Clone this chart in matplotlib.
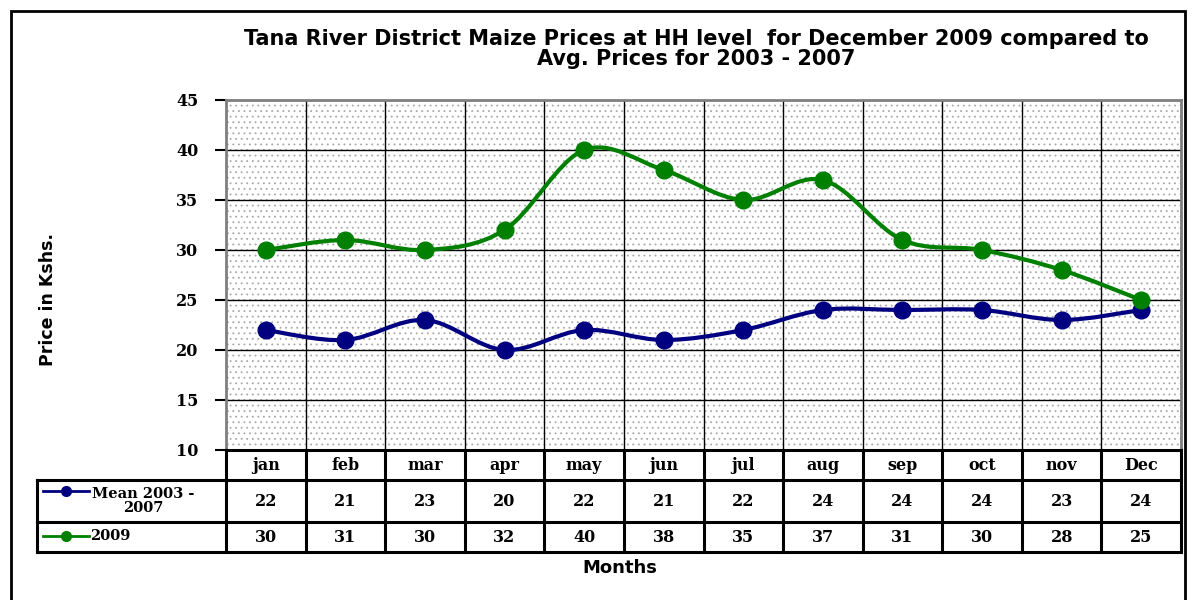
import numpy as np
import matplotlib.pyplot as plt
from matplotlib.path import Path
from matplotlib.patches import PathPatch, Rectangle

months = ['jan', 'feb', 'mar', 'apr', 'may', 'jun', 'jul', 'aug', 'sep', 'oct', 'nov', 'Dec']
mean_0307 = [22, 21, 23, 20, 22, 21, 22, 24, 24, 24, 23, 24]
prices_2009 = [30, 31, 30, 32, 40, 38, 35, 37, 31, 30, 28, 25]
series_names = ['Mean 2003 -\n2007', '2009']
series_colors = ['#000080', '#008000']
yticks = [10, 15, 20, 25, 30, 35, 40, 45]

W, H = 1192, 600
SERIF = ['DejaVu Serif']
SANS = ['DejaVu Sans']


def smooth_path(x, y):
    # excel-like smoothed line as cubic bezier through the points
    pts = np.column_stack([x, y]).astype(float)
    n = len(pts)
    verts, codes = [pts[0]], [Path.MOVETO]
    for i in range(n - 1):
        p0, p1 = pts[max(i - 1, 0)], pts[i]
        p2, p3 = pts[i + 1], pts[min(i + 2, n - 1)]
        verts += [p1 + (p2 - p0) / 6, p2 - (p3 - p1) / 6, p2]
        codes += [Path.CURVE4] * 3
    return Path(verts, codes)


plt.rcParams['hatch.linewidth'] = 0.6
fig = plt.figure(figsize=(W / 100, H / 100), dpi=100)

x0, x1 = 226, 1181
ax = fig.add_axes([x0 / W, 1 - 450 / H, (x1 - x0) / W, 350 / H])
x = np.arange(len(months))
ax.set_xlim(-0.5, len(months) - 0.5)
ax.set_ylim(10, 45)
ax.add_patch(Rectangle((0, 0), 1, 1, transform=ax.transAxes, facecolor='white',
                       edgecolor='#a8a8a8', lw=0, hatch='...', zorder=0))
for v in yticks[1:-1]:
    ax.axhline(v, color='black', lw=1, zorder=1)
for k in range(1, len(months)):
    ax.axvline(k - 0.5, color='black', lw=1, zorder=1)

for vals, c in zip([mean_0307, prices_2009], series_colors):
    ax.add_patch(PathPatch(smooth_path(x, vals), facecolor='none', edgecolor=c, lw=3, zorder=3))
    ax.plot(x, vals, 'o', color=c, ms=12, zorder=4)

ax.set_xticks([])
ax.set_yticks(yticks)
ax.set_yticklabels([str(v) for v in yticks], family=SERIF, fontweight='bold', fontsize=11.5)
ax.tick_params(axis='y', direction='out', length=8, width=1.5, pad=12)
for s in ['left', 'top', 'right']:
    ax.spines[s].set_color('#7f7f7f')
    ax.spines[s].set_linewidth(2)
ax.spines['bottom'].set_visible(False)

# data table below the plot
tax = fig.add_axes([x0 / W, 1 - 553 / H, (x1 - x0) / W, 103 / H])
tax.set_xlim(-0.5, len(months) - 0.5)
tax.set_ylim(103, 0)
tax.axis('off')
cw = (x1 - x0) / len(months)


def px2x(px):
    return (px - x0) / cw - 0.5


left = px2x(37)
kw = dict(color='black', lw=2.2, clip_on=False, solid_capstyle='projecting')
tax.plot([-0.5, 11.5], [0, 0], **kw)
for yy in [30, 72, 102]:
    tax.plot([left, 11.5], [yy, yy], **kw)
for k in range(len(months) + 1):
    tax.plot([k - 0.5, k - 0.5], [0, 102], **kw)
tax.plot([left, left], [30, 102], **kw)

cell = dict(ha='center', va='center', family=SERIF, fontweight='bold', fontsize=11.5)
for i, m in enumerate(months):
    tax.text(i, 15, m, **cell)
    tax.text(i, 52, str(mean_0307[i]), **cell)
    tax.text(i, 88, str(prices_2009[i]), **cell)

# legend keys inside the table
for (name, c, yy, ty, tx, ha) in [(series_names[0], series_colors[0], 41, 51, 143, 'center'),
                                  (series_names[1], series_colors[1], 86, 86, 90, 'left')]:
    tax.plot([px2x(43), px2x(89)], [yy, yy], color=c, lw=2, clip_on=False)
    tax.plot([px2x(66)], [yy], 'o', color=c, ms=7, clip_on=False)
    tax.text(px2x(tx), ty, name, ha=ha, va='center', multialignment='center',
             family=SERIF, fontweight='bold', fontsize=10.5, linespacing=1.05)

fig.text(696 / W, 1 - 49 / H, 'Tana River District Maize Prices at HH level  for December 2009 compared to\nAvg. Prices for 2003 - 2007',
         ha='center', va='center', family=SANS, fontweight='bold', fontsize=15, linespacing=1.0)
fig.text(48 / W, 1 - 300 / H, 'Price in Kshs.', rotation=90, ha='center', va='center',
         family=SANS, fontweight='bold', fontsize=12.5)
fig.text(620 / W, 1 - 568 / H, 'Months', ha='center', va='center', family=SANS, fontweight='bold', fontsize=13)

fig.patches.append(Rectangle((11 / W, -0.1), 1174 / W, (H - 11) / H + 0.1, transform=fig.transFigure,
                             fill=False, edgecolor='black', lw=2))

fig.savefig('out.png', dpi=100)
